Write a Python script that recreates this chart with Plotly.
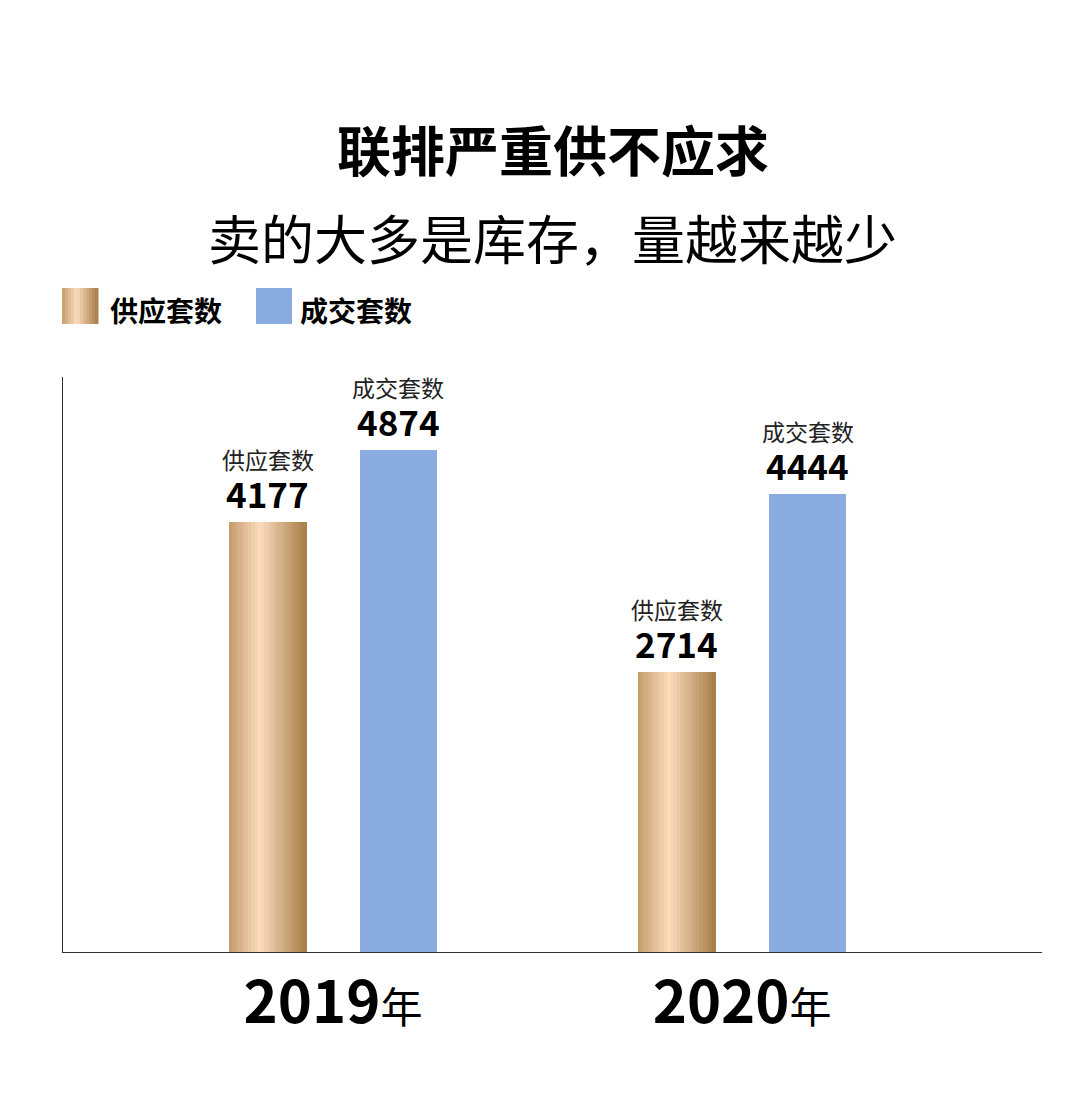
import plotly.graph_objects as go

years = ["2019", "2020"]
supply = [4177, 2714]
deal = [4874, 4444]
series_names = ["供应套数", "成交套数"]

FONT = "Noto Sans CJK SC"
BLUE = "#89abdf"
GOLD_STOPS = [(0.0, (196, 155, 108)), (0.4, (251, 220, 188)), (1.0, (166, 124, 70))]

def gold(t):
    for (t0, c0), (t1, c1) in zip(GOLD_STOPS, GOLD_STOPS[1:]):
        if t0 <= t <= t1:
            f = (t - t0) / (t1 - t0)
            return "rgb(%d,%d,%d)" % tuple(round(a + (b - a) * f) for a, b in zip(c0, c1))
    return "rgb(166,124,70)"

xpos = list(range(len(years)))
w = 0.19
shift = 0.16
n = 24

fig = go.Figure()
# gold bars drawn as thin slices to get a horizontal gradient
for i in range(n):
    fig.add_trace(go.Bar(x=[p - shift for p in xpos], y=supply, width=w / n * 1.05,
                         offset=-w / 2 + i * w / n, marker=dict(color=gold((i + 0.5) / n), line_width=0),
                         showlegend=False, hoverinfo="skip"))
fig.add_trace(go.Bar(x=[p + shift for p in xpos], y=deal, width=w, marker=dict(color=BLUE, line_width=0),
                     showlegend=False))

for p, s, d in zip(xpos, supply, deal):
    for xx, v, name in [(p - shift, s, series_names[0]), (p + shift, d, series_names[1])]:
        fig.add_annotation(x=xx, y=v, yshift=2, text=f"<b>{v}</b>", showarrow=False, yanchor="bottom",
                           font=dict(size=35, color="black", family=FONT))
        fig.add_annotation(x=xx, y=v, yshift=44, text=name, showarrow=False, yanchor="bottom",
                           font=dict(size=23, color="#222", family=FONT))

# title
fig.add_annotation(xref="paper", yref="paper", x=0.5, xanchor="center", y=1, yshift=270,
                   text="<b>联排严重供不应求</b>", showarrow=False, font=dict(size=54, color="black", family=FONT))
fig.add_annotation(xref="paper", yref="paper", x=0.5, xanchor="center", y=1, yshift=180,
                   text="卖的大多是库存，量越来越少", showarrow=False, font=dict(size=53, color="black", family=FONT))

# legend swatches
for k in range(12):
    fig.add_shape(type="rect", xref="paper", yref="paper", x0=(62 + k * 3 - 63) / 979, x1=(62 + (k + 1) * 3 - 63) / 979 + 0.0005,
                  y0=(952 - 324) / 575, y1=(952 - 288) / 575, line_width=0, fillcolor=gold((k + 0.5) / 12))
fig.add_shape(type="rect", xref="paper", yref="paper", x0=(256 - 63) / 979, x1=(292 - 63) / 979,
              y0=(952 - 324) / 575, y1=(952 - 288) / 575, line_width=0, fillcolor=BLUE)
for xpx, name in [(108, series_names[0]), (298, series_names[1])]:
    fig.add_annotation(xref="paper", yref="paper", x=(xpx - 63) / 979, y=(952 - 306) / 575, yshift=18,
                       xanchor="left", text=f"<b>{name}</b>", showarrow=False,
                       font=dict(size=28, color="black", family=FONT))

fig.update_layout(
    width=1080, height=1094, plot_bgcolor="white", paper_bgcolor="white",
    margin=dict(l=55, r=46, t=369, b=150), barmode="overlay", bargap=0,
    xaxis=dict(range=[-0.66, 1.733], tickvals=xpos,
               ticktext=[f"<b>{y}</b><span style='font-size:42px'>年</span>" for y in years],
               tickfont=dict(size=58, color="black", family=FONT), showline=True, linecolor="#333",
               linewidth=1, ticks="", showgrid=False, zeroline=False),
    yaxis=dict(range=[0, 5580], showticklabels=False, showline=True, linecolor="#333", linewidth=1,
               showgrid=False, zeroline=False, ticks=""),
)
fig.write_html("out.html")
